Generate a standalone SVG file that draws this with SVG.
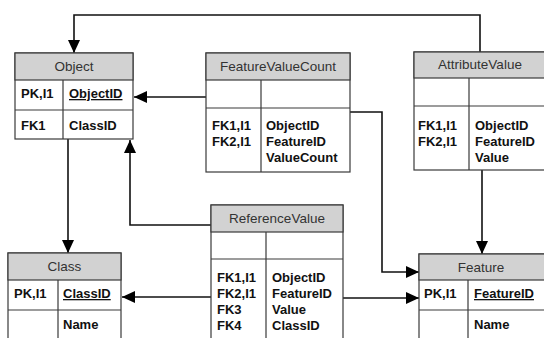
<svg xmlns="http://www.w3.org/2000/svg" width="544" height="338" viewBox="0 0 544 338">
<defs>
<style>
.box{fill:#fff;stroke:#3a3a3a;stroke-width:1.2}
.hdr{fill:#d2d2d2;stroke:#3a3a3a;stroke-width:1.2}
.ln{stroke:#3a3a3a;stroke-width:1.2;fill:none}
.ht{font-family:"Liberation Sans",Arial,sans-serif;font-size:13.5px;fill:#333;text-anchor:middle}
.ft{font-family:"Liberation Sans",Arial,sans-serif;font-size:13px;font-weight:bold;fill:#111}
.pk{text-decoration:underline}
.con{stroke:#111;stroke-width:1.6;fill:none;marker-end:url(#ah)}
</style>
<marker id="ah" markerUnits="userSpaceOnUse" markerWidth="13" markerHeight="12" refX="13" refY="6" orient="auto">
<path d="M0,0 L13,6 L0,12 z" fill="#000"/>
</marker>
</defs>
<rect width="544" height="338" fill="#fff"/>
<g id="connectors">
<path class="con" d="M480,52 V15 H74 V53"/>
<path class="con" d="M206,97 H134"/>
<path class="con" d="M350,112 H382 V272 H419"/>
<path class="con" d="M482,170 V254"/>
<path class="con" d="M68,139 V253"/>
<path class="con" d="M211,225 H130 V140"/>
<path class="con" d="M211,297 H122"/>
<path class="con" d="M343,298 H419"/>
</g>
<g id="Object">
<rect class="box" x="15" y="53" width="118" height="86"/>
<rect class="hdr" x="15" y="53" width="118" height="27"/>
<path class="ln" d="M15,110 H133 M63,80 V139"/>
<text class="ht" x="74" y="71">Object</text>
<text class="ft" x="21" y="98">PK,I1</text>
<text class="ft pk" x="69" y="98">ObjectID</text>
<text class="ft" x="21" y="130">FK1</text>
<text class="ft" x="69" y="130">ClassID</text>
</g>
<g id="FeatureValueCount">
<rect class="box" x="206" y="53" width="144" height="119"/>
<rect class="hdr" x="206" y="53" width="144" height="27"/>
<path class="ln" d="M206,108 H350 M261,80 V172"/>
<text class="ht" x="278" y="71">FeatureValueCount</text>
<text class="ft" x="212" y="130">FK1,I1</text>
<text class="ft" x="212" y="146">FK2,I1</text>
<text class="ft" x="266" y="130">ObjectID</text>
<text class="ft" x="266" y="146">FeatureID</text>
<text class="ft" x="266" y="162">ValueCount</text>
</g>
<g id="AttributeValue">
<rect class="box" x="414" y="52" width="134" height="118"/>
<rect class="hdr" x="414" y="52" width="134" height="26"/>
<path class="ln" d="M414,106 H548 M469,78 V170"/>
<text class="ht" x="480" y="69">AttributeValue</text>
<text class="ft" x="418" y="130">FK1,I1</text>
<text class="ft" x="418" y="146">FK2,I1</text>
<text class="ft" x="475" y="130">ObjectID</text>
<text class="ft" x="475" y="146">FeatureID</text>
<text class="ft" x="475" y="162">Value</text>
</g>
<g id="Class">
<rect class="box" x="8" y="253" width="113" height="95"/>
<rect class="hdr" x="8" y="253" width="113" height="27"/>
<path class="ln" d="M8,310 H121 M58,280 V348"/>
<text class="ht" x="64.5" y="271">Class</text>
<text class="ft" x="14" y="298">PK,I1</text>
<text class="ft pk" x="63" y="298">ClassID</text>
<text class="ft" x="63" y="329">Name</text>
</g>
<g id="ReferenceValue">
<rect class="box" x="211" y="205" width="132" height="143"/>
<rect class="hdr" x="211" y="205" width="132" height="27"/>
<path class="ln" d="M211,259 H343 M266,232 V348"/>
<text class="ht" x="277" y="223">ReferenceValue</text>
<text class="ft" x="217" y="282">FK1,I1</text>
<text class="ft" x="217" y="298">FK2,I1</text>
<text class="ft" x="217" y="314">FK3</text>
<text class="ft" x="217" y="330">FK4</text>
<text class="ft" x="272" y="282">ObjectID</text>
<text class="ft" x="272" y="298">FeatureID</text>
<text class="ft" x="272" y="314">Value</text>
<text class="ft" x="272" y="330">ClassID</text>
</g>
<g id="Feature">
<rect class="box" x="419" y="254" width="130" height="94"/>
<rect class="hdr" x="419" y="254" width="130" height="26"/>
<path class="ln" d="M419,310 H549 M468,280 V348"/>
<text class="ht" x="481" y="272">Feature</text>
<text class="ft" x="424" y="298">PK,I1</text>
<text class="ft pk" x="474" y="298">FeatureID</text>
<text class="ft" x="474" y="329">Name</text>
</g>
</svg>
